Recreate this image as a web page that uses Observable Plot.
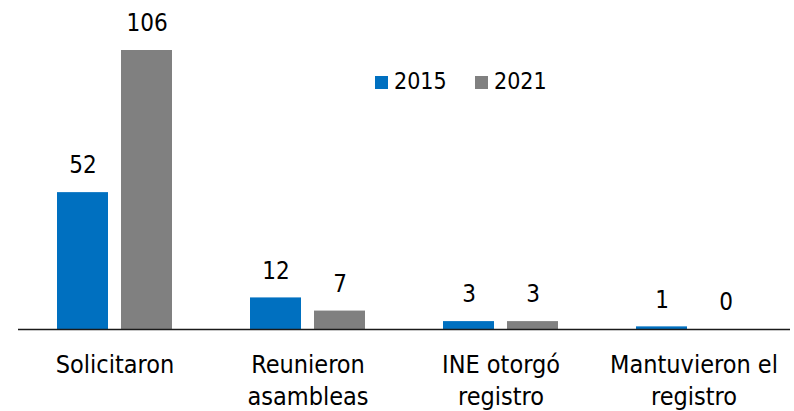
<!DOCTYPE html>
<html><head><meta charset="utf-8">
<script src="https://cdn.jsdelivr.net/npm/d3@7"></script>
<script src="https://cdn.jsdelivr.net/npm/@observablehq/plot@0.6"></script>
<style>
body{margin:0;background:#fff;}
#wrap{position:relative;width:794px;height:411px;overflow:hidden;font-family:"DejaVu Sans Condensed","DejaVu Sans",sans-serif;}
.sw{position:absolute;width:13px;height:13px;top:76px;}
.lt{position:absolute;font-size:23px;line-height:23px;top:70px;color:#000;}
</style></head><body><div id="wrap"></div>
<script>
const categories = ["Solicitaron", "Reunieron\nasambleas", "INE otorgó\nregistro", "Mantuvieron el\nregistro"];
const series = ["2015", "2021"];
const values2015 = [52, 12, 3, 1];
const values2021 = [106, 7, 3, 0];
const colors = ["#0070C0", "#808080"];

const data = categories.flatMap((c, i) => [
  {category: c, year: series[0], value: values2015[i]},
  {category: c, year: series[1], value: values2021[i]}
]);

const font = '"DejaVu Sans Condensed","DejaVu Sans",sans-serif';
const chart = Plot.plot({
  width: 794, height: 411,
  marginLeft: 17, marginRight: 3, marginTop: 50, marginBottom: 82,
  style: {fontFamily: font, fontSize: "24px", color: "#000", background: "transparent", overflow: "visible"},
  fx: {domain: categories, padding: 0, axis: null},
  x: {domain: series, paddingInner: 0.2, paddingOuter: 0.588, axis: null},
  y: {domain: [0, 106], axis: null},
  color: {domain: series, range: colors},
  marks: [
    Plot.barY(data, {fx: "category", x: "year", y: "value", fill: "year"}),
    Plot.text(data, {fx: "category", x: "year", y: "value", text: d => String(d.value), dy: -27, lineAnchor: "middle", fontSize: 24, fill: "#000"}),
    Plot.ruleY([0], {stroke: "#1a1a1a", strokeWidth: 1.5}),
    Plot.axisFx({anchor: "bottom", tickSize: 0, tickPadding: 20, fontSize: 25, lineHeight: 1.3, fill: "#000", label: null})
  ]
});
const wrap = document.getElementById("wrap");
wrap.appendChild(chart);

// legend
const legendX = [375, 475];
series.forEach((s, i) => {
  const sw = document.createElement("div");
  sw.className = "sw";
  sw.style.left = legendX[i] + "px";
  sw.style.background = colors[i];
  wrap.appendChild(sw);
  const t = document.createElement("div");
  t.className = "lt";
  t.style.left = (legendX[i] + 19) + "px";
  t.textContent = s;
  wrap.appendChild(t);
});
</script>
</body></html>
